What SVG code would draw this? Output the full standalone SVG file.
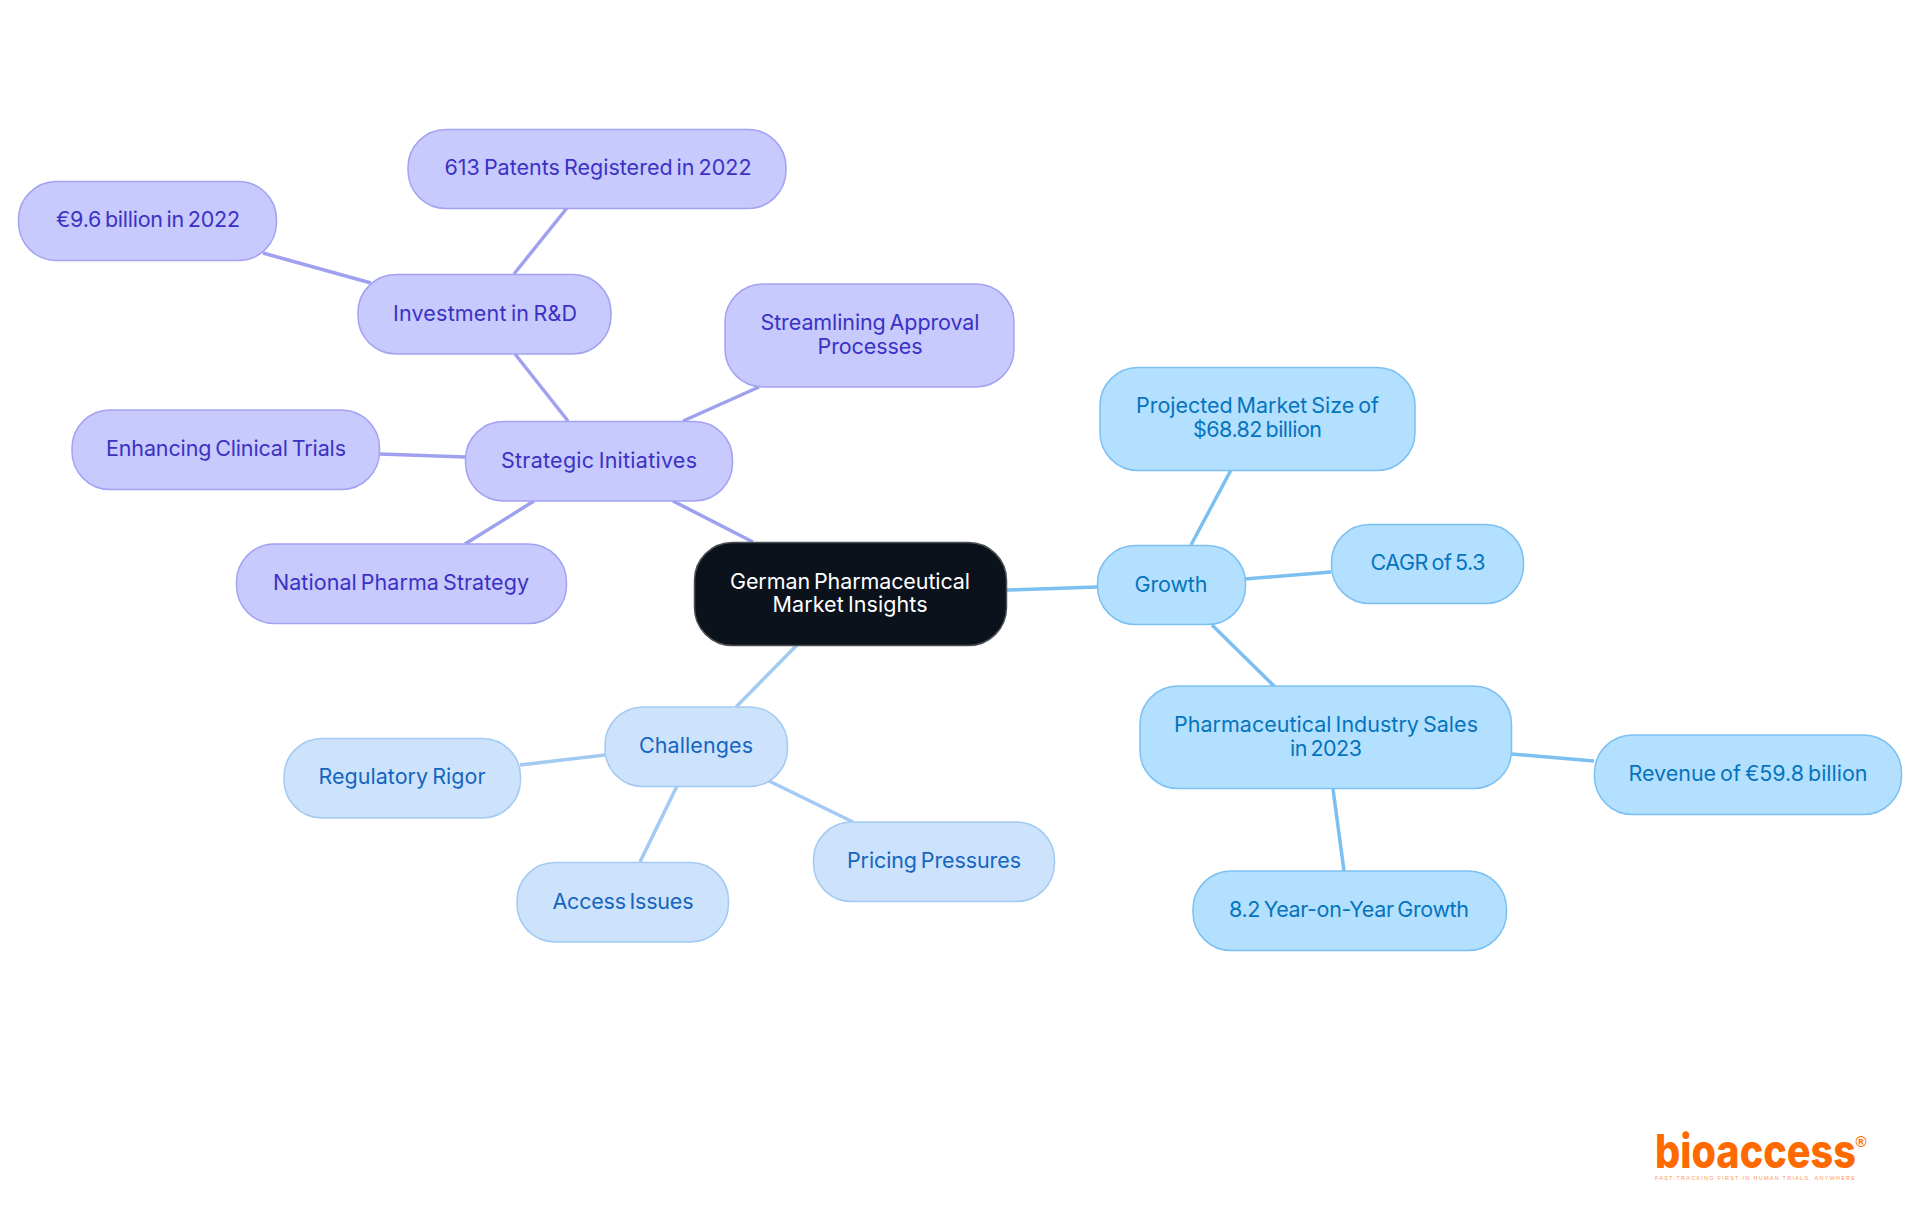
<svg xmlns="http://www.w3.org/2000/svg" width="1920" height="1215" viewBox="0 0 1920 1215">
<style>
text{font-family:"Inter","Noto Sans","Liberation Sans",sans-serif;font-size:21.5px;font-weight:400;text-anchor:middle;word-spacing:-2px}
rect{rx:38px}
.p rect{fill:#c8c9fd;stroke:#a3a3f2;stroke-width:1.5}.p text{fill:#3a32c4}
.c rect{fill:#cde3fc;stroke:#a3caf3;stroke-width:1.5}.c text{fill:#1565c0}
.s rect{fill:#b3e0ff;stroke:#7cc0f1;stroke-width:1.5}.s text{fill:#0674bd}
#connectors line{stroke-width:3.5;fill:none}
.lp{stroke:#a0a0f0}.lc{stroke:#a3caf3}.ls{stroke:#7cc0f1}
</style>
<rect width="1920" height="1215" fill="#ffffff" style="rx:0"/>
<g id="connectors">
<line class="lp" x1="673" y1="501" x2="753" y2="542"/>
<line class="ls" x1="1007" y1="590" x2="1097" y2="587"/>
<line class="lc" x1="797" y1="645" x2="736" y2="707"/>
<line class="ls" x1="1191" y1="545" x2="1231" y2="470"/>
<line class="ls" x1="1245" y1="579" x2="1331" y2="572"/>
<line class="ls" x1="1212" y1="625" x2="1274" y2="686"/>
<line class="ls" x1="1512" y1="754" x2="1594" y2="761"/>
<line class="ls" x1="1333" y1="789" x2="1344" y2="871"/>
<line class="lc" x1="605" y1="755" x2="520" y2="765"/>
<line class="lc" x1="677" y1="786" x2="640" y2="862"/>
<line class="lc" x1="769" y1="781" x2="853" y2="822"/>
<line class="lp" x1="568" y1="421" x2="515" y2="354"/>
<line class="lp" x1="683" y1="421" x2="759" y2="387"/>
<line class="lp" x1="465" y1="457" x2="380" y2="454"/>
<line class="lp" x1="534" y1="501" x2="465" y2="544"/>
<line class="lp" x1="514" y1="274" x2="567" y2="208"/>
<line class="lp" x1="371" y1="283" x2="263" y2="253"/>
</g>
<g id="root"><rect x="694.5" y="542.5" width="312" height="103" fill="#0b121b" stroke="#4a4e55" stroke-width="1.5"/><text x="850" y="588.5" fill="#ffffff" textLength="240">German Pharmaceutical</text><text x="850" y="612" fill="#ffffff" textLength="155">Market Insights</text></g>
<g id="growth" class="s"><rect x="1097.5" y="545.5" width="148" height="79"/><text x="1171" y="592" textLength="73">Growth</text></g>
<g id="projected" class="s"><rect x="1100" y="367.5" width="315" height="103"/><text x="1257.5" y="413" textLength="243">Projected Market Size of</text><text x="1257.5" y="437" textLength="129">$68.82 billion</text></g>
<g id="cagr" class="s"><rect x="1331.5" y="524.5" width="192" height="79"/><text x="1428" y="570" textLength="115">CAGR of 5.3</text></g>
<g id="sales" class="s"><rect x="1140" y="686" width="371.5" height="102.5"/><text x="1326" y="732" textLength="304">Pharmaceutical Industry Sales</text><text x="1326" y="756" textLength="72">in 2023</text></g>
<g id="revenue" class="s"><rect x="1594.5" y="735" width="307" height="79.5"/><text x="1748" y="781" textLength="239">Revenue of €59.8 billion</text></g>
<g id="yoy" class="s"><rect x="1193" y="871" width="313.5" height="79.5"/><text x="1349" y="917" textLength="240">8.2 Year-on-Year Growth</text></g>
<g id="challenges" class="c"><rect x="605" y="707" width="182.5" height="79.5"/><text x="696" y="753" textLength="114">Challenges</text></g>
<g id="regulatory" class="c"><rect x="284" y="738.5" width="236.5" height="79.5"/><text x="402" y="784" textLength="167">Regulatory Rigor</text></g>
<g id="access" class="c"><rect x="517" y="862.5" width="211.5" height="79.5"/><text x="623" y="909" textLength="141">Access Issues</text></g>
<g id="pricing" class="c"><rect x="813.5" y="822" width="241" height="79.5"/><text x="934" y="868" textLength="174">Pricing Pressures</text></g>
<g id="strategic" class="p"><rect x="465.5" y="421.5" width="267" height="79.5"/><text x="599" y="468" textLength="196">Strategic Initiatives</text></g>
<g id="streamlining" class="p"><rect x="725" y="284" width="289" height="103"/><text x="870" y="330" textLength="219">Streamlining Approval</text><text x="870" y="354" textLength="105">Processes</text></g>
<g id="enhancing" class="p"><rect x="72" y="410" width="307.5" height="79.5"/><text x="226" y="456" textLength="240">Enhancing Clinical Trials</text></g>
<g id="national" class="p"><rect x="236.5" y="544" width="330" height="79.5"/><text x="401" y="590" textLength="256">National Pharma Strategy</text></g>
<g id="investment" class="p"><rect x="358" y="274.5" width="253" height="79.5"/><text x="485" y="321" textLength="184">Investment in R&amp;D</text></g>
<g id="patents" class="p"><rect x="408" y="129.5" width="378" height="79"/><text x="598" y="175" textLength="307">613 Patents Registered in 2022</text></g>
<g id="billion" class="p"><rect x="18.5" y="181.5" width="258" height="79"/><text x="148" y="227" textLength="184">€9.6 billion in 2022</text></g>
<g id="logo">
<text x="1655" y="1168" textLength="201" lengthAdjust="spacingAndGlyphs" style="font-family:'Inter','Liberation Sans',sans-serif;font-weight:800;font-size:47px;text-anchor:start;fill:#ff6a00;word-spacing:0">bioaccess</text>
<text x="1861" y="1147" style="font-family:'Liberation Sans',sans-serif;font-size:15px;font-weight:700;fill:#ff6a00;word-spacing:0">®</text>
<text x="1655" y="1180" textLength="200" style="font-family:'Liberation Sans',sans-serif;font-size:5.5px;font-weight:400;text-anchor:start;fill:#ff9a55;word-spacing:0">FAST-TRACKING FIRST-IN-HUMAN TRIALS, ANYWHERE</text>
</g>
</svg>
